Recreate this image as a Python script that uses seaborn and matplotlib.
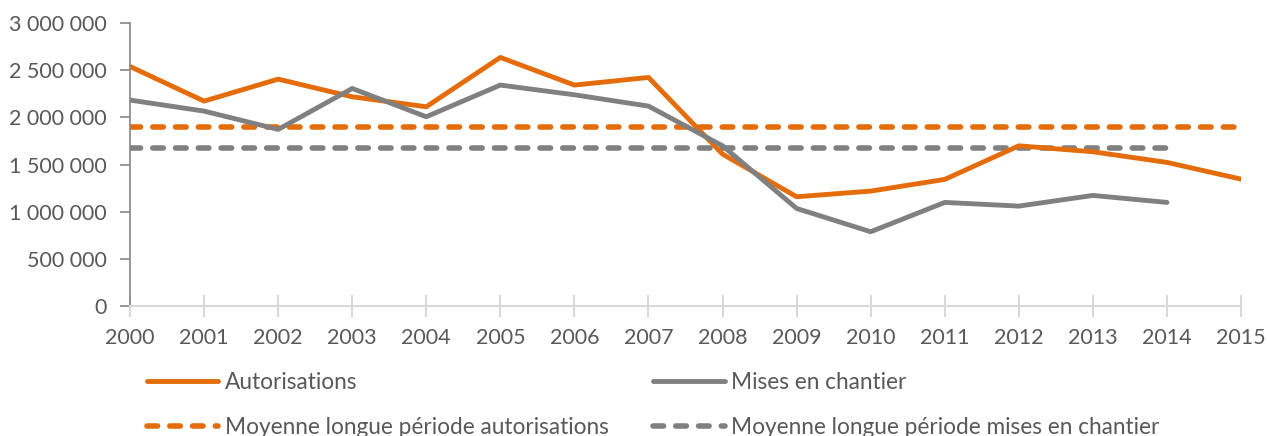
import numpy as np
import pandas as pd
import seaborn as sns
import matplotlib.pyplot as plt
from matplotlib.ticker import FuncFormatter

# données
annees = list(range(2000, 2016))
autorisations = [2540000, 2173000, 2406000, 2219000, 2113000, 2636000, 2343000, 2424000,
                 1611000, 1159000, 1219000, 1343000, 1699000, 1636000, 1523000, 1346000]
mises_en_chantier = [2184000, 2067000, 1873000, 2307000, 2007000, 2343000, 2240000, 2120000,
                     1699000, 1035000, 788000, 1099000, 1060000, 1173000, 1099000, np.nan]
moyenne_autorisations = 1897000
moyenne_mises = 1671000

orange = '#E46C0A'
gris = '#808080'

df = pd.DataFrame({'annee': annees, 'Autorisations': autorisations,
                   'Mises en chantier': mises_en_chantier})
df['Moyenne longue période autorisations'] = moyenne_autorisations
df['Moyenne longue période mises en chantier'] = [moyenne_mises if not np.isnan(v) else np.nan
                                                  for v in mises_en_chantier]

sns.set_style('white')
plt.rcParams['font.family'] = ['Lato', 'DejaVu Sans']

fig, ax = plt.subplots(figsize=(12.67, 4.36), dpi=100)
fig.subplots_adjust(left=0.1026, right=0.9795, top=0.947, bottom=0.298)

tirets = (0, (1.9, 2.2))
sns.lineplot(data=df, x='annee', y='Moyenne longue période autorisations', ax=ax,
             color=orange, lw=4, linestyle=tirets, dash_capstyle='round',
             label='Moyenne longue période autorisations')
sns.lineplot(data=df, x='annee', y='Moyenne longue période mises en chantier', ax=ax,
             color=gris, lw=4, linestyle=tirets, dash_capstyle='round',
             label='Moyenne longue période mises en chantier')
sns.lineplot(data=df, x='annee', y='Autorisations', ax=ax, color=orange, lw=3.5,
             label='Autorisations')
sns.lineplot(data=df, x='annee', y='Mises en chantier', ax=ax, color=gris, lw=3.5,
             label='Mises en chantier')

ax.set_xlim(2000, 2015)
ax.set_ylim(0, 3000000)
ax.set_xticks(annees)
ax.set_yticks(range(0, 3000001, 500000))
ax.yaxis.set_major_formatter(FuncFormatter(lambda v, p: f'{int(v):,}'.replace(',', ' ')))
ax.set_xlabel('')
ax.set_ylabel('')

for s in ['top', 'right']:
    ax.spines[s].set_visible(False)
ax.spines['left'].set_color('#868686')
ax.spines['left'].set_linewidth(1.2)
ax.spines['bottom'].set_color('#D9D9D9')
ax.spines['bottom'].set_linewidth(1.5)
ax.tick_params(axis='y', left=True, length=7, width=1.2, color='#868686', labelsize=15.5,
               labelcolor='#595959', pad=10)
ax.tick_params(axis='x', bottom=True, direction='inout', length=16, width=1.5,
               color='#D9D9D9', labelsize=15.5, labelcolor='#595959', pad=8)

handles, labels = ax.get_legend_handles_labels()
ax.get_legend().remove()
ordre = [2, 0, 3, 1]
leg = fig.legend([handles[i] for i in ordre], [labels[i] for i in ordre], ncol=2,
                 loc='lower left', bbox_to_anchor=(0.1, -0.052), frameon=False,
                 fontsize=16.3, handlelength=3.15, columnspacing=1.95, labelspacing=1.08,
                 handletextpad=0.3)
for t in leg.get_texts():
    t.set_color('#595959')

fig.savefig('out.png', dpi=100)
